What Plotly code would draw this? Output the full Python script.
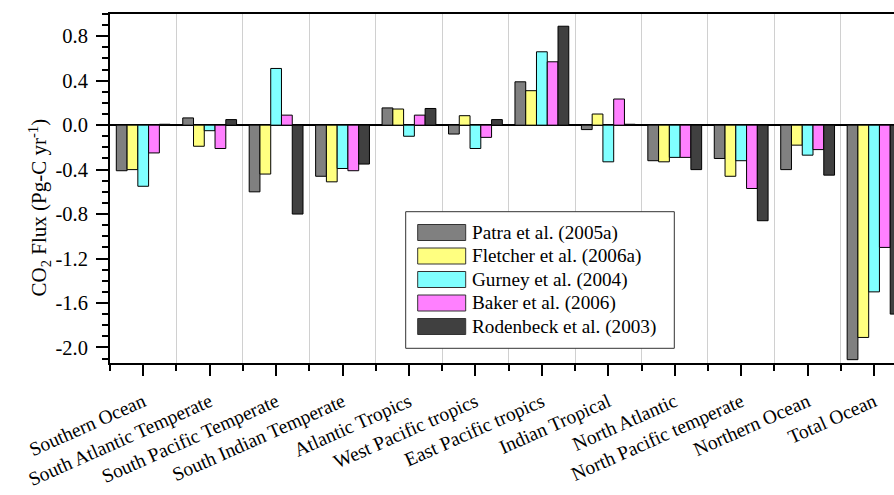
import plotly.graph_objects as go

categories = ["Southern Ocean", "South Atlantic Temperate", "South Pacific Temperate",
              "South Indian Temperate", "Atlantic Tropics", "West Pacific tropics",
              "East Pacific tropics", "Indian Tropical", "North Atlantic",
              "North Pacific temperate", "Northern Ocean", "Total Ocean"]

series_names = ["Patra et al. (2005a)", "Fletcher et al. (2006a)", "Gurney et al. (2004)",
                "Baker et al. (2006)", "Rodenbeck et al. (2003)"]

patra = [-0.41, 0.065, -0.60, -0.46, 0.155, -0.08, 0.39, -0.04, -0.32, -0.30, -0.40, -2.11]
fletcher = [-0.40, -0.19, -0.44, -0.51, 0.145, 0.085, 0.31, 0.10, -0.33, -0.46, -0.18, -1.91]
gurney = [-0.55, -0.05, 0.51, -0.39, -0.10, -0.21, 0.66, -0.33, -0.29, -0.32, -0.27, -1.50]
baker = [-0.25, -0.21, 0.09, -0.41, 0.09, -0.11, 0.57, 0.235, -0.29, -0.57, -0.22, -1.10]
rodenbeck = [0.008, 0.05, -0.80, -0.35, 0.15, 0.05, 0.89, 0.008, -0.40, -0.86, -0.45, -1.70]

y_tickvals = [-2.0, -1.6, -1.2, -0.8, -0.4, 0.0, 0.4, 0.8]
y_ticktext = ["-2.0", "-1.6", "-1.2", "-0.8", "-0.4", "0.0", "0.4", "0.8"]

colors = ["#808080", "#FFFF80", "#80FFFF", "#FF80FF", "#404040"]
all_series = [patra, fletcher, gurney, baker, rodenbeck]

FONT = "Liberation Serif, Times New Roman, serif"
W_PX, H_PX = 894, 495
L, T, R, B = 110, 14, 0, 132
PW = W_PX - L - R
PH = H_PX - T - B

def px_x(p):
    return (p - L) / PW

def px_y(p):
    return (H_PX - B - p) / PH

xs = list(range(len(categories)))

fig = go.Figure()
for name, vals, col in zip(series_names, all_series, colors):
    fig.add_trace(go.Bar(
        x=xs, y=vals, name=name,
        marker=dict(color=col, line=dict(color="#000000", width=1)),
        showlegend=False,
    ))

# custom legend (box, swatches, text)
box = dict(x0=405.7, x1=674.3, y0=211.7, y1=348.3)
fig.add_shape(type="rect", xref="paper", yref="paper",
              x0=px_x(box["x0"]), x1=px_x(box["x1"]),
              y0=px_y(box["y1"]), y1=px_y(box["y0"]),
              line=dict(color="#333333", width=1), fillcolor="white", layer="above")
row0 = 232.5
dy = 23.5
for i, (name, col) in enumerate(zip(series_names, colors)):
    cy = row0 + i * dy
    fig.add_shape(type="rect", xref="paper", yref="paper",
                  x0=px_x(417.7), x1=px_x(465.7),
                  y0=px_y(cy + 8), y1=px_y(cy - 8),
                  line=dict(color="#333333", width=1), fillcolor=col, layer="above")
    fig.add_annotation(xref="paper", yref="paper", x=px_x(469.5), y=px_y(cy),
                       text=name, showarrow=False, xanchor="left", yanchor="middle",
                       font=dict(family=FONT, size=19.2, color="black"))

# y title
fig.add_annotation(xref="paper", yref="paper", x=px_x(39), y=px_y(207.5),
                   text="CO<sub>2</sub> Flux (Pg-C yr<sup>-1</sup>)", textangle=-90,
                   showarrow=False, xanchor="center", yanchor="middle",
                   font=dict(family=FONT, size=21, color="black"))

fig.update_layout(
    width=W_PX, height=H_PX,
    margin=dict(l=L, r=R, t=T, b=B, autoexpand=False),
    paper_bgcolor="white", plot_bgcolor="white",
    barmode="group", bargap=0.19, bargroupgap=0,
    font=dict(family=FONT, size=20, color="black"),
    xaxis=dict(
        range=[-0.5, 11.3], automargin=False,
        tickmode="array", tickvals=xs, ticktext=categories,
        tickangle=-24,
        tickfont=dict(family=FONT, size=19.5, color="black"),
        ticklabelstandoff=7,
        ticks="outside", ticklen=11, tickwidth=2, tickcolor="black",
        showgrid=False, zeroline=False,
        showline=True, linecolor="black", linewidth=2, mirror=True,
        minor=dict(tickvals=[i + 0.5 for i in range(-1, 12)], ticks="outside",
                   ticklen=6, tickwidth=2, tickcolor="black",
                   showgrid=True, gridcolor="#d0d0d0", gridwidth=1),
    ),
    yaxis=dict(
        range=[-2.14, 1.0], automargin=False,
        tickmode="array", tickvals=y_tickvals, ticktext=y_ticktext,
        tickfont=dict(family=FONT, size=20.5, color="black"),
        ticklabelstandoff=4,
        ticks="outside", ticklen=12, tickwidth=2, tickcolor="black",
        showgrid=False,
        zeroline=True, zerolinecolor="black", zerolinewidth=2,
        showline=True, linecolor="black", linewidth=2, mirror=False,
        minor=dict(dtick=0.1, tick0=0, ticks="outside", ticklen=6, tickwidth=2,
                   tickcolor="black", showgrid=False),
    ),
)

fig.write_html("out.html", config={"displayModeBar": False},
               post_script="document.body.style.margin='0';document.body.style.overflow='hidden';")
